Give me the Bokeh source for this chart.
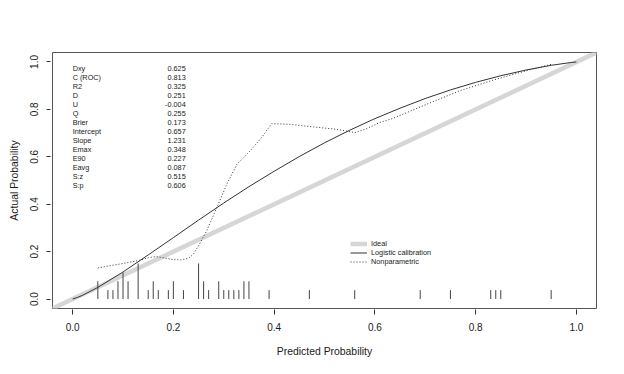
from bokeh.plotting import figure
from bokeh.models import (FixedTicker, NumeralTickFormatter, Range1d, Legend,
                          LegendItem, ColumnDataSource)
from bokeh.core.properties import value
from bokeh.embed import file_html
from bokeh.resources import INLINE

# ---- data ----
ideal_x = [-0.04, 1.04]
ideal_y = [-0.04, 1.04]

logistic_x = [0.0, 0.01, 0.02, 0.05, 0.10, 0.15, 0.20, 0.25, 0.30, 0.35, 0.40,
              0.45, 0.50, 0.55, 0.60, 0.65, 0.70, 0.75, 0.80, 0.85, 0.90,
              0.95, 0.99, 1.0]
logistic_y = [0.0, 0.007, 0.016, 0.049, 0.114, 0.186, 0.259, 0.333, 0.405,
              0.474, 0.539, 0.601, 0.659, 0.712, 0.761, 0.805, 0.846, 0.882,
              0.914, 0.942, 0.966, 0.986, 0.998, 1.0]

nonpar_x = [0.05, 0.07, 0.09, 0.11, 0.13, 0.15, 0.165, 0.18, 0.20, 0.215,
            0.23, 0.24, 0.25, 0.266, 0.286, 0.306, 0.326, 0.352, 0.375, 0.395,
            0.431, 0.478, 0.524, 0.560, 0.583, 0.610, 0.636, 0.702, 0.768,
            0.834, 0.887, 0.927, 0.95]
nonpar_y = [0.131, 0.139, 0.146, 0.154, 0.162, 0.174, 0.179, 0.174, 0.166,
            0.165, 0.172, 0.190, 0.225, 0.287, 0.385, 0.484, 0.568, 0.624,
            0.681, 0.740, 0.737, 0.726, 0.716, 0.702, 0.718, 0.745, 0.762,
            0.821, 0.878, 0.923, 0.955, 0.978, 0.990]

spike_bins = [0.05, 0.07, 0.08, 0.09, 0.10, 0.11, 0.13, 0.15, 0.16, 0.17,
              0.19, 0.20, 0.22, 0.25, 0.26, 0.27, 0.29, 0.30, 0.31, 0.32,
              0.33, 0.34, 0.35, 0.39, 0.47, 0.56, 0.69, 0.75, 0.83, 0.84,
              0.85, 0.95]
spike_counts = [2, 1, 1, 2, 3, 2, 4, 1, 2, 1, 1, 2, 1, 4, 2, 1, 2, 1, 1, 1,
                1, 2, 2, 1, 1, 1, 1, 1, 1, 1, 1, 1]

stat_names = ["Dxy", "C (ROC)", "R2", "D", "U", "Q", "Brier", "Intercept",
              "Slope", "Emax", "E90", "Eavg", "S:z", "S:p"]
stat_values = ["0.625", "0.813", "0.325", "0.251", "-0.004", "0.255", "0.173",
               "0.657", "1.231", "0.348", "0.227", "0.087", "0.515", "0.606"]

tick_values = [0.0, 0.2, 0.4, 0.6, 0.8, 1.0]

# ---- figure ----
FONT = "Liberation Sans"
p = figure(width=616, height=366, output_backend="svg", toolbar_location=None,
           x_range=Range1d(-0.04, 1.04), y_range=Range1d(-0.04, 1.04),
           min_border_left=52, min_border_right=20, min_border_top=52,
           min_border_bottom=58)
p.xgrid.visible = False
p.ygrid.visible = False
p.outline_line_color = "#555555"
p.outline_line_width = 1
p.background_fill_color = "white"
p.border_fill_color = "white"

for ax in (p.xaxis[0], p.yaxis[0]):
    ax.ticker = FixedTicker(ticks=tick_values)
    ax.formatter = NumeralTickFormatter(format="0.0")
    ax.axis_line_color = None
    ax.major_tick_line_color = "#333333"
    ax.minor_tick_line_color = None
    ax.major_label_text_font = FONT
    ax.major_label_text_font_size = "10px"
    ax.major_label_text_color = "#1a1a1a"
    ax.axis_label_text_font = FONT
    ax.axis_label_text_font_size = "10.4px"
    ax.axis_label_text_font_style = "normal"
    ax.axis_label_text_color = "#1a1a1a"

p.xaxis.axis_label = "Predicted Probability"
p.yaxis.axis_label = "Actual Probability"
p.xaxis.major_tick_in = -1
p.xaxis.major_tick_out = 6
p.yaxis.major_tick_in = -2
p.yaxis.major_tick_out = 6
p.xaxis.major_label_standoff = 8
p.yaxis.major_label_standoff = 8
p.yaxis.major_label_orientation = "parallel"
p.xaxis.axis_label_standoff = 12
p.yaxis.axis_label_standoff = 8

# ideal line
r_ideal = p.line(ideal_x, ideal_y, line_color="#d6d6d6", line_width=4.5)

# spikes (distribution of predicted probabilities)
max_count = max(spike_counts)
spike_top = [0.15 * c / max_count for c in spike_counts]
p.segment(x0=spike_bins, y0=[0.0] * len(spike_bins), x1=spike_bins,
          y1=spike_top, line_color="#444444", line_width=1)

# logistic calibration
r_log = p.line(logistic_x, logistic_y, line_color="#333333", line_width=1)

# nonparametric
r_np = p.line(nonpar_x, nonpar_y, line_color="#333333", line_width=1,
              line_dash="1 2")

# statistics text block
y_top = 0.972
row_step = 0.038
ys = [y_top - i * row_step for i in range(len(stat_names))]
src = ColumnDataSource(dict(y=ys, name=stat_names, val=stat_values))
p.text(x=0.0, y="y", text="name", source=src, text_font=value(FONT),
       text_font_size="7.3px", text_baseline="middle", text_align="left",
       text_color="#1a1a1a")
p.text(x=0.2245, y="y", text="val", source=src, text_font=value(FONT),
       text_font_size="7.3px", text_baseline="middle", text_align="right",
       text_color="#1a1a1a")

legend = Legend(items=[LegendItem(label="Ideal", renderers=[r_ideal]),
                       LegendItem(label="Logistic calibration", renderers=[r_log]),
                       LegendItem(label="Nonparametric", renderers=[r_np])],
                location=(298, 42), padding=0, margin=0, spacing=0,
                glyph_width=17, glyph_height=9, label_height=9,
                label_standoff=4, label_text_font=FONT,
                label_text_font_size="7.3px", label_text_color="#1a1a1a",
                border_line_color=None, background_fill_alpha=0)
p.add_layout(legend, "center")

open("out.html", "w").write(file_html(p, INLINE))
